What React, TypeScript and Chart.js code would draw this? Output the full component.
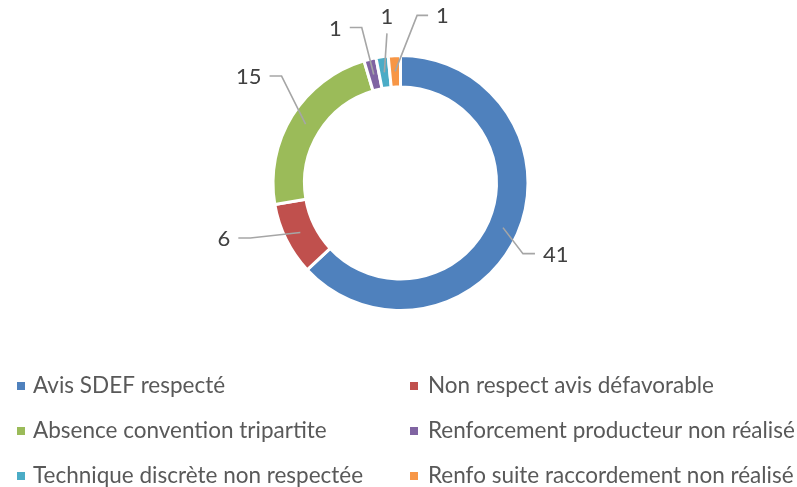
import React, { useEffect, useRef } from "react";
import { Chart, registerables } from "chart.js";

Chart.register(...registerables);

const categories = [
  "Avis SDEF respecté",
  "Non respect avis défavorable",
  "Absence convention tripartite",
  "Renforcement producteur non réalisé",
  "Technique discrète non respectée",
  "Renfo suite raccordement non réalisé",
];
const values = [41, 6, 15, 1, 1, 1];
const colors = ["#4F81BD", "#C0504D", "#9BBB59", "#8064A2", "#4BACC6", "#F79646"];

const FONT = "Lato, 'Open Sans', sans-serif";
const LABEL_SIZE = 22;
const LEGEND_SIZE = 22.5;

// leader line geometry per slice (offsets from anchor on ring), purely presentational
const LEADERS = [
  { ex: 20, ey: 26, h: 12, align: "left" },
  { ex: -50, ey: 5.5, h: -12, align: "right" },
  { ex: -24, ey: -48, h: -12, align: "right" },
  { ex: -12, ey: -47, h: -12, align: "right" },
  { ex: 2.6, ey: -39, h: 0, align: "top" },
  { ex: 22, ey: -56, h: 11, align: "left" },
];

const LEGEND = { markX: [17, 410], textX: [33, 428], rowY: [386, 431, 476], box: 8 };

const overlayPlugin = {
  id: "overlay",
  afterDraw(chart: any) {
    const ctx = chart.ctx as CanvasRenderingContext2D;
    const meta = chart.getDatasetMeta(0);
    ctx.save();
    meta.data.forEach((arc: any, i: number) => {
      const p = arc.getProps(["x", "y", "startAngle", "endAngle", "innerRadius", "outerRadius"], true);
      const mid = (p.startAngle + p.endAngle) / 2;
      const r = (p.innerRadius + p.outerRadius) / 2;
      const ax = p.x + Math.cos(mid) * r;
      const ay = p.y + Math.sin(mid) * r;
      const L = LEADERS[i];
      const bx = ax + L.ex;
      const by = ay + L.ey;
      const cx = bx + L.h;
      ctx.strokeStyle = "#A6A6A6";
      ctx.lineWidth = 1.6;
      ctx.beginPath();
      ctx.moveTo(ax, ay);
      ctx.lineTo(bx, by);
      ctx.lineTo(cx, by);
      ctx.stroke();
      ctx.fillStyle = "#404040";
      ctx.font = `${LABEL_SIZE}px ${FONT}`;
      const txt = String(values[i]);
      ctx.textBaseline = "middle";
      if (L.align === "left") {
        ctx.textAlign = "left";
        ctx.fillText(txt, cx + 8, by + 1);
      } else if (L.align === "right") {
        ctx.textAlign = "right";
        ctx.fillText(txt, cx - 8, by + 1);
      } else {
        ctx.textAlign = "center";
        ctx.fillText(txt, cx, by - 17);
      }
    });
    // legend
    ctx.font = `${LEGEND_SIZE}px ${FONT}`;
    ctx.textAlign = "left";
    ctx.textBaseline = "middle";
    categories.forEach((c, i) => {
      const col = i % 2;
      const row = Math.floor(i / 2);
      const y = LEGEND.rowY[row];
      ctx.fillStyle = colors[i];
      ctx.fillRect(LEGEND.markX[col], y - LEGEND.box / 2, LEGEND.box, LEGEND.box);
      ctx.fillStyle = "#595959";
      ctx.fillText(c, LEGEND.textX[col], y);
    });
    ctx.restore();
  },
};

export default function App() {
  const ref = useRef<HTMLCanvasElement | null>(null);
  useEffect(() => {
    if (!ref.current) return;
    const chart = new Chart(ref.current, {
      type: "doughnut",
      data: {
        labels: categories,
        datasets: [
          {
            data: values,
            backgroundColor: colors,
            borderColor: "#FFFFFF",
            borderWidth: 3,
          },
        ],
      },
      options: {
        responsive: false,
        animation: false,
        devicePixelRatio: 1,
        cutout: "75.3%",
        layout: { padding: { left: 271.5, right: 267.5, top: 54, bottom: 175 } },
        plugins: { legend: { display: false }, tooltip: { enabled: false } },
      },
      plugins: [overlayPlugin],
    });
    return () => chart.destroy();
  }, []);
  return (
    <div style={{ position: "absolute", left: 0, top: 0, width: 797, height: 487, background: "#fff" }}>
      <canvas ref={ref} width={797} height={487} style={{ display: "block" }} />
    </div>
  );
}
